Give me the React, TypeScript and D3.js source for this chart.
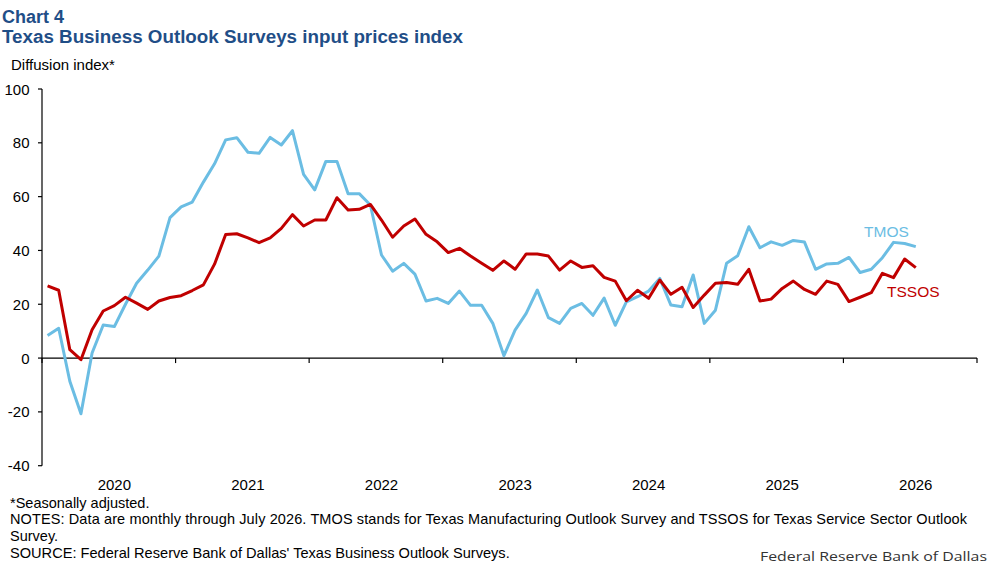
import React from "react";
import * as d3 from "d3";

const TMOS: number[] = [
  8.4, 11.1, -8.6, -20.7, 1.9, 12.3, 11.7, 20, 27.8, 32.7, 37.9, 52.2,
  56.2, 58, 65.4, 72.2, 81.1, 81.9, 76.5, 76.1, 82, 79.2, 84.5, 68.3,
  62.5, 73.1, 73.1, 61.1, 61.1, 56.9, 38.3, 32.3, 35.2, 31.2, 21.2, 22.2,
  20.3, 24.9, 19.6, 19.6, 12.9, 0.9, 10.4, 16.6, 25.3, 15, 12.9, 18.5,
  20.3, 15.9, 22.3, 12.2, 20.9, 22.8, 24.9, 29.6, 19.7, 19.1, 30.9, 12.9,
  17.8, 35.2, 38, 48.8, 41, 43.2, 41.9, 43.7, 43.1, 33, 35, 35.2,
  37.4, 31.8, 33, 37.3, 43, 42.6, 41.4,
];

const TSSOS: number[] = [
  26.8, 25.2, 3.1, -0.6, 10.5, 17.5, 19.5, 22.6, 20.4, 18.1, 21.2, 22.5,
  23.2, 25.1, 27.2, 34.9, 45.9, 46.2, 44.7, 42.9, 44.7, 48.2, 53.3, 49.1,
  51.3, 51.3, 59.6, 55, 55.3, 57.1, 51.3, 44.9, 49.1, 51.7, 46, 43.2,
  39.2, 40.8, 37.9, 35.2, 32.6, 36.1, 33, 38.7, 38.7, 37.9, 32.7, 36.1,
  33.7, 34.3, 30, 28.6, 21.3, 25.2, 22.2, 29, 23.7, 26.3, 18.8, 23.4,
  27.8, 28.1, 27.4, 33, 21.2, 21.9, 25.9, 28.6, 25.5, 23.7, 28.6, 27.4,
  21, 22.6, 24.3, 31.5, 29.9, 36.8, 33.6,
];

const YEARS: string[] = ["2020", "2021", "2022", "2023", "2024", "2025", "2026"];
const Y_TICKS: number[] = [-40, -20, 0, 20, 40, 60, 80, 100];

const FONT = "'Liberation Sans', Arial, sans-serif";
const BLUE = "#6BBDE3";
const RED = "#C00000";
const TITLE = "#1F4E87";

export default function App() {
  const monthsTotal = YEARS.length * 12;
  const x = d3.scaleLinear().domain([-0.5, monthsTotal - 0.5]).range([42, 977]);
  const y = d3.scaleLinear().domain([-40, 100]).range([465.7, 89]);

  const line = d3
    .line<number>()
    .x((_, i) => x(i))
    .y((d) => y(d));

  const y0 = y(0);
  const boundaries = d3.range(YEARS.length + 1).map((k) => k * 12 - 0.5);

  return (
    <svg
      width={997}
      height={565}
      style={{ position: "absolute", left: 0, top: 0, background: "#fff" }}
      fontFamily={FONT}
    >
      <text x={2} y={22.5} fontSize={18} fontWeight="bold" fill={TITLE}>
        Chart 4
      </text>
      <text x={2} y={43} fontSize={18.8} fontWeight="bold" fill={TITLE}>
        Texas Business Outlook Surveys input prices index
      </text>
      <text x={11} y={70} fontSize={15} fill="#000">
        Diffusion index*
      </text>

      {/* y axis */}
      <line x1={42} x2={42} y1={y(100)} y2={y(-40)} stroke="#000" strokeWidth={1.2} />
      {Y_TICKS.map((t) => (
        <g key={t}>
          <line x1={38} x2={42} y1={y(t)} y2={y(t)} stroke="#000" strokeWidth={1.2} />
          <text x={29.5} y={y(t) + 5.5} fontSize={15} textAnchor="end" fill="#000">
            {t}
          </text>
        </g>
      ))}

      {/* x axis at zero */}
      <line x1={42} x2={977} y1={y0} y2={y0} stroke="#000" strokeWidth={1.2} />
      {boundaries.map((b) => (
        <line key={b} x1={x(b)} x2={x(b)} y1={y0} y2={y0 + 5} stroke="#000" strokeWidth={1.2} />
      ))}
      {YEARS.map((yr, k) => (
        <text key={yr} x={x(k * 12 + 6)} y={490} fontSize={15} textAnchor="middle" fill="#000">
          {yr}
        </text>
      ))}

      {/* series */}
      <path d={line(TMOS) || ""} fill="none" stroke={BLUE} strokeWidth={3} strokeLinejoin="round" />
      <path d={line(TSSOS) || ""} fill="none" stroke={RED} strokeWidth={3} strokeLinejoin="round" />

      <text x={864} y={236.7} fontSize={15.5} fill={BLUE}>
        TMOS
      </text>
      <text x={887} y={296.7} fontSize={15.5} fill={RED}>
        TSSOS
      </text>

      {/* notes */}
      <text x={10} y={507.5} fontSize={14.5} fill="#000">
        *Seasonally adjusted.
      </text>
      <text x={10} y={524} fontSize={14.5} fill="#000" textLength={957} lengthAdjust="spacing">
        NOTES: Data are monthly through July 2026. TMOS stands for Texas Manufacturing Outlook Survey and TSSOS for Texas Service Sector Outlook
      </text>
      <text x={10} y={540.5} fontSize={14.5} fill="#000">
        Survey.
      </text>
      <text x={10} y={557.5} fontSize={14.6} fill="#000">
        SOURCE: Federal Reserve Bank of Dallas' Texas Business Outlook Surveys.
      </text>
      <text
        x={987}
        y={561}
        fontSize={13.5}
        fill="#333"
        textAnchor="end"
        fontFamily="'Open Sans', 'DejaVu Sans', sans-serif"
        textLength={227}
        lengthAdjust="spacingAndGlyphs"
      >
        Federal Reserve Bank of Dallas
      </text>
    </svg>
  );
}
